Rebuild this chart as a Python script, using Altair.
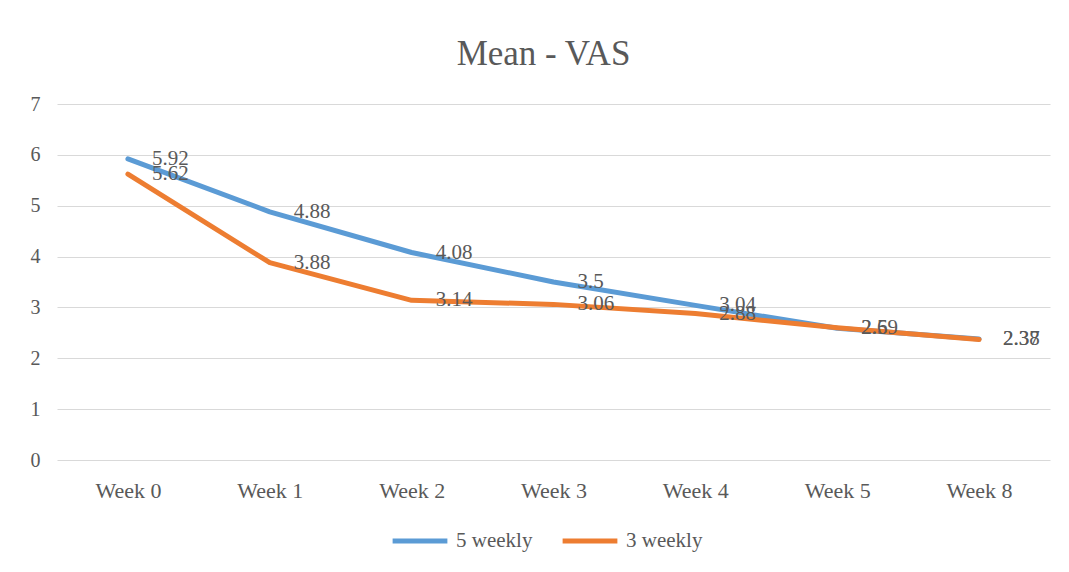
import altair as alt
import pandas as pd

weeks = ["Week 0", "Week 1", "Week 2", "Week 3", "Week 4", "Week 5", "Week 8"]
five_weekly = [5.92, 4.88, 4.08, 3.5, 3.04, 2.59, 2.38]
three_weekly = [5.62, 3.88, 3.14, 3.06, 2.88, 2.6, 2.37]
series_names = ["5 weekly", "3 weekly"]
colors = ["#5B9BD5", "#ED7D31"]

rows = []
for w, v in zip(weeks, five_weekly):
    rows.append({"week": w, "value": v, "series": series_names[0]})
for w, v in zip(weeks, three_weekly):
    rows.append({"week": w, "value": v, "series": series_names[1]})
df = pd.DataFrame(rows)

FONT = "Liberation Serif"
GREY = "#595959"

x_enc = alt.X("week:N", sort=weeks, scale=alt.Scale(type="point", padding=0.5),
              axis=alt.Axis(title=None, labelAngle=0, domain=False, ticks=False, grid=False,
                            labelPadding=20, labelFontSize=22, labelColor=GREY, labelFont=FONT))
y_enc = alt.Y("value:Q", scale=alt.Scale(domain=[0, 7], nice=False),
              axis=alt.Axis(title=None, values=list(range(8)), domain=False, ticks=False,
                            gridColor="#D9D9D9", gridWidth=1.2, labelPadding=17,
                            labelFontSize=20, labelColor=GREY, labelFont=FONT))

base = alt.Chart(df)

lines = base.mark_line(strokeWidth=5, strokeJoin="round", strokeCap="round").encode(
    x=x_enc, y=y_enc,
    color=alt.Color("series:N", sort=series_names,
                    scale=alt.Scale(domain=series_names, range=colors),
                    legend=alt.Legend(title=None, orient="none", direction="horizontal",
                                      legendX=333, legendY=407, padding=0,
                                      symbolType="stroke", symbolSize=3000, symbolStrokeWidth=5,
                                      symbolOffset=0, labelOffset=6,
                                      labelFontSize=21, labelColor=GREY, labelFont=FONT,
                                      columnPadding=19)),
    detail="series:N",
)

labels = base.mark_text(align="left", baseline="middle", dx=24, fontSize=21,
                        font=FONT, color=GREY).encode(
    x=alt.X("week:N", sort=weeks), y="value:Q", text=alt.Text("value:Q"))

chart = alt.layer(lines, labels).properties(
    width=993, height=356,
    background="white",
    title=alt.TitleParams("Mean - VAS", fontSize=35, font=FONT, color=GREY,
                          fontWeight="normal", anchor="middle", offset=22, dx=-10),
    padding={"left": 22, "top": 29, "right": 10, "bottom": 10},
).configure_view(strokeWidth=0, stroke=None)

chart.save("out.html", embed_options={"renderer": "svg", "actions": False})
